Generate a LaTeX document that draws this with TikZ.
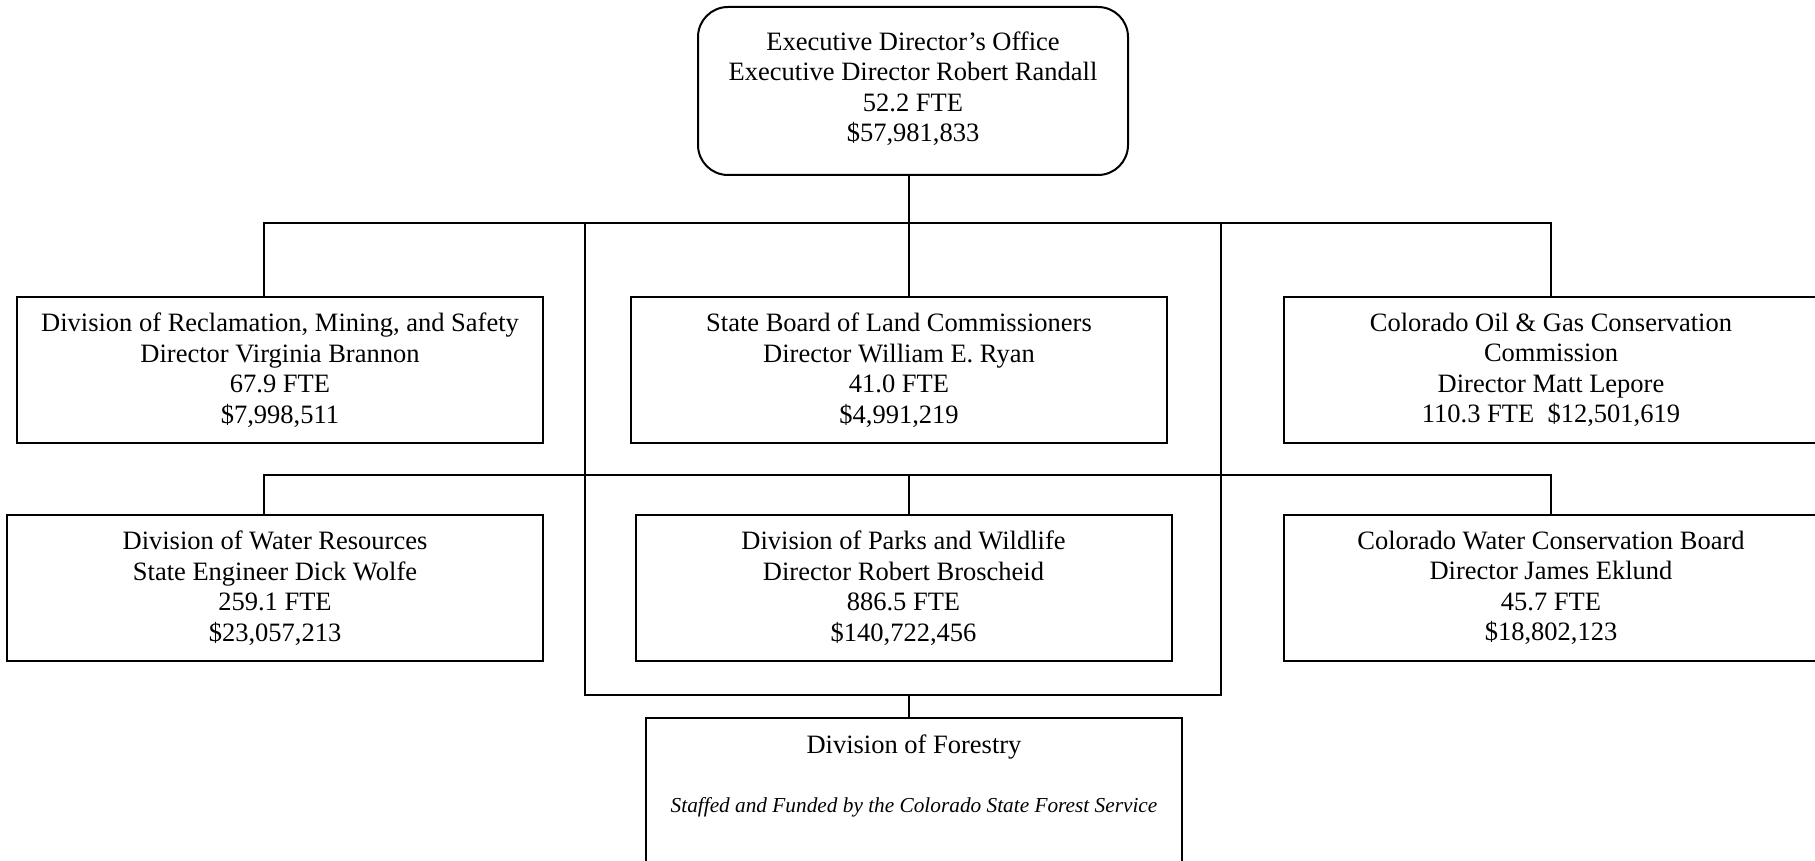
\documentclass[tikz,border=0pt]{standalone}
\usepackage{fontspec}
\setmainfont{Liberation Serif}
\usetikzlibrary{positioning}

\tikzset{
  unit/.style={draw, line width=2pt, align=center, inner sep=0pt,
    minimum height=146pt, minimum width=536pt},
  office/.style={unit, rounded corners=30pt, minimum width=430pt, minimum height=168pt, text depth=9pt},
  note/.style={inner sep=0pt, font=\fontsize{21.3}{24}\selectfont\itshape}
}

\begin{document}
\begin{tikzpicture}[x=1pt, y=-1pt, line width=2pt, font=\fontsize{26.5}{30.5}\selectfont]
    \clip (0,0) rectangle (1815,861);

    \node[office] (exec) at (913,91) {Executive Director’s Office\\Executive Director Robert Randall\\52.2 FTE\\\$57,981,833};

    % first row
    \node[unit, minimum width=526pt] (drms) at (280,370) {Division of Reclamation, Mining, and Safety\\Director Virginia Brannon\\67.9 FTE\\\$7,998,511};
    \node[unit] (slb) at (899,370) {State Board of Land Commissioners\\Director William E. Ryan\\41.0 FTE\\\$4,991,219};
    \node[unit, minimum width=534pt] (cogcc) at (1551,370) {Colorado Oil \& Gas Conservation\\Commission\\Director Matt Lepore\\110.3 FTE\ \ \$12,501,619};

    % second row
    \node[unit] (dwr) at (275,588) {Division of Water Resources\\State Engineer Dick Wolfe\\259.1 FTE\\\$23,057,213};
    \node[unit] (dpw) at (903.5,588) {Division of Parks and Wildlife\\Director Robert Broscheid\\886.5 FTE\\\$140,722,456};
    \node[unit, minimum width=534pt] (cwcb) at (1551,588) {Colorado Water Conservation Board\\Director James Eklund\\45.7 FTE\\\$18,802,123};

    \node[unit, anchor=north, minimum height=170pt] (forestry) at (914,717.3) {};
    \node[below=17pt of forestry.north, inner sep=0pt] (forestry-name) {Division of Forestry};
    \node[below=43pt of forestry-name.base, note] (forestry-note) {Staffed and Funded by the Colorado State Forest Service};

    \path (909,223) coordinate (b1) (909,475) coordinate (b2) (909,695) coordinate (b3);
    \path (264,223) coordinate (bl1) (1551,223) coordinate (br1);
    \path (264,475) coordinate (bl2) (1551,475) coordinate (br2);
    \path (585,223) coordinate (lp1) (1221,223) coordinate (lp2);

    \draw (b1 |- exec.south) -- (b1) -- (b1 |- slb.north);
    \draw (bl1 |- drms.north) -- (bl1) -- (br1) -- (br1 |- cogcc.north);
    \draw (bl2 |- dwr.north) -- (bl2) -- (br2) -- (br2 |- cwcb.north);
    \draw (b2) -- (b2 |- dpw.north);
    \draw (lp1) -- (lp1 |- b3) -- (lp2 |- b3) -- (lp2);
    \draw (b3) -- (b3 |- forestry.north);
\end{tikzpicture}
\end{document}
